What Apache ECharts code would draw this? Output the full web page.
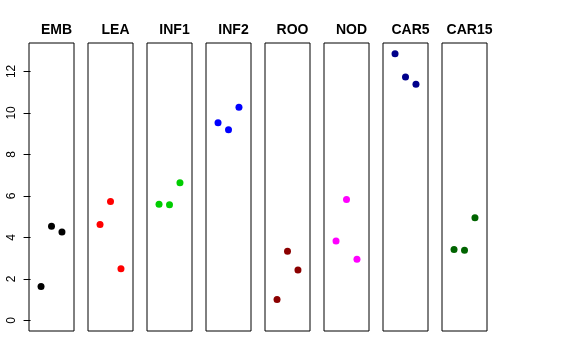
<!DOCTYPE html>
<html><head><meta charset="utf-8">
<script src="https://cdn.jsdelivr.net/npm/echarts@6/dist/echarts.min.js"></script>
<style>html,body{margin:0;padding:0;background:#fff}#c{width:576px;height:360px}</style>
</head><body><div id="c"></div>
<script>
const panels = ["EMB","LEA","INF1","INF2","ROO","NOD","CAR5","CAR15"];
const colors = ["#000000","#FF0000","#00CD00","#0000FF","#8B0000","#FF00FF","#00008B","#006400"];
const xPos = [1,2,3];
const EMB = [1.63,4.54,4.26];
const LEA = [4.62,5.73,2.49];
const INF1 = [5.60,5.57,6.63];
const INF2 = [9.52,9.19,10.27];
const ROO = [1.01,3.33,2.43];
const NOD = [3.83,5.83,2.94];
const CAR5 = [12.85,11.73,11.38];
const CAR15 = [3.41,3.38,4.94];
const yTicks = [0,2,4,6,8,10,12];
const values = [EMB,LEA,INF1,INF2,ROO,NOD,CAR5,CAR15];

const L0 = 29, STEP = 59, W = 45, TOP = 43, H = 288;
const grid=[], xAxis=[], yAxis=[], series=[], title=[];
panels.forEach((p,i)=>{
  const left = L0 + STEP*i;
  grid.push({left:left, top:TOP, width:W, height:H, show:true, borderColor:'#000', borderWidth:1, backgroundColor:'transparent'});
  xAxis.push({type:'value', gridIndex:i, min:-0.15, max:4.15, show:false});
  yAxis.push({type:'value', gridIndex:i, min:-0.514, max:13.37, show:i===0,
    axisLine:{show:false}, splitLine:{show:false},
    axisTick:{show:true, length:7, customValues:yTicks, lineStyle:{color:'#000'}},
    axisLabel:{show:true, rotate:90, margin:11, fontSize:12, color:'#000', fontFamily:'Liberation Sans', customValues:yTicks}});
  series.push({type:'scatter', xAxisIndex:i, yAxisIndex:i, symbolSize:7,
    itemStyle:{color:colors[i], opacity:1}, data: xPos.map((x,k)=>[x, values[i][k]])});
  title.push({text:p, left:left+W/2, top:18, textAlign:'center',
    textStyle:{fontSize:14, fontWeight:'bold', color:'#000', fontFamily:'Liberation Sans'}});
});
const chart = echarts.init(document.getElementById('c'), null, {renderer:'canvas'});
chart.setOption({animation:false, title, grid, xAxis, yAxis, series});
</script></body></html>
